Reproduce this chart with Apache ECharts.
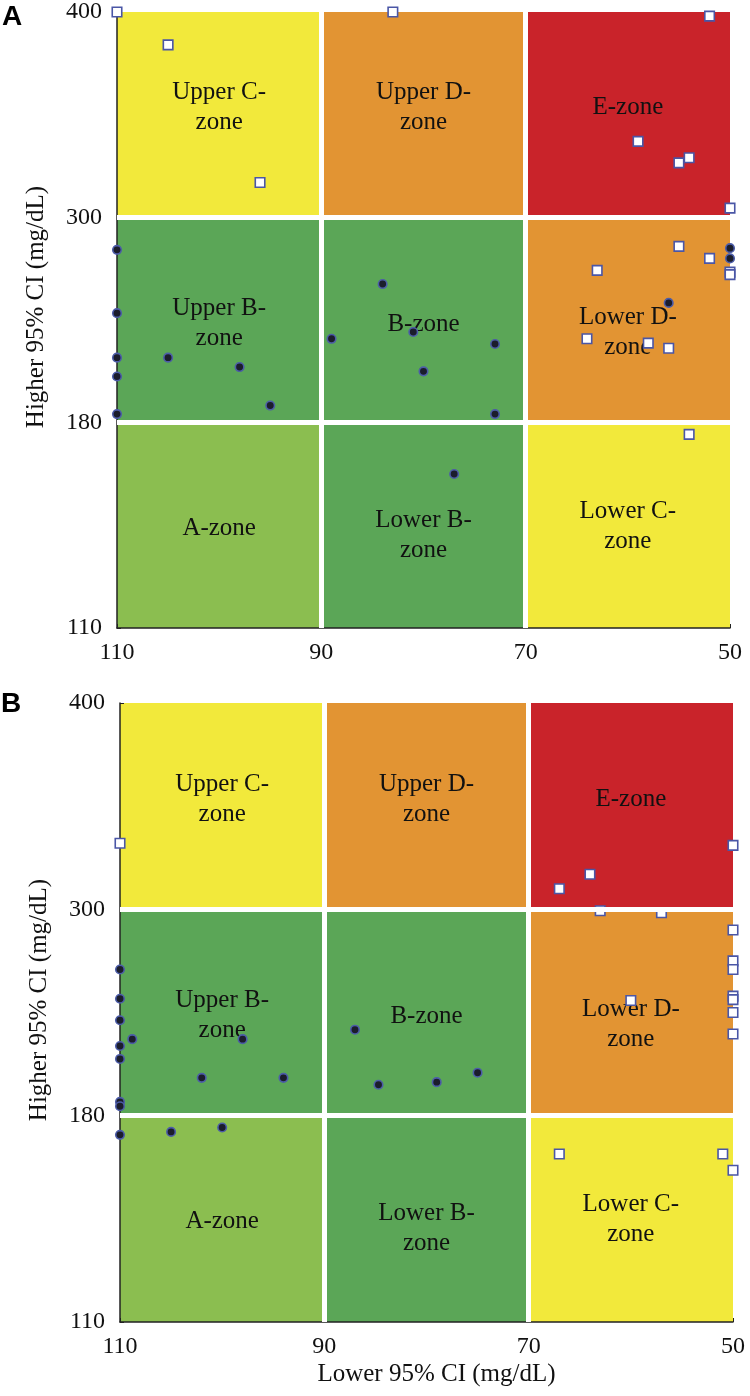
<!DOCTYPE html>
<html>
<head>
<meta charset="utf-8">
<script src="https://cdn.jsdelivr.net/npm/echarts@6/dist/echarts.min.js"></script>
<style>html,body{margin:0;padding:0;background:#fff}#c{width:750px;height:1396px}</style>
</head>
<body>
<div id="c"></div>
<script>
// ---- Data ----
const xBreaks = [110, 90, 70, 50];          // Lower 95% CI tick labels / zone boundaries
const yBreaks = [110, 180, 300, 400];       // Higher 95% CI tick labels / zone boundaries
// zone names by row (bottom -> top) and column (110-90, 90-70, 70-50)
const zoneNames = [
  ['A-zone', 'Lower B-\nzone', 'Lower C-\nzone'],
  ['Upper B-\nzone', 'B-zone', 'Lower D-\nzone'],
  ['Upper C-\nzone', 'Upper D-\nzone', 'E-zone']
];
// Panel A
const aCircles = [[110,281],[110,244],[110,218],[110,207],[110,185],[105,218],[98,212.5],[95,190],[89,229],[84,261],[81,233],[80,210],[73,226],[73,185],[77,162.5],[56,250],[50,282],[50,276]];
const aSquares = [[110,400],[105,384],[96,317],[83,400],[52,398],[59,337],[55,326.5],[54,329],[50,304.5],[55,283],[52,276],[50,268],[50,266.5],[63,269],[64,229],[58,226.5],[56,223.5],[54,176]];
// Panel B
const bCircles = [[110,265],[110,248],[110,235.5],[108.8,224.5],[110,220.5],[110,213],[110,188],[110,185.5],[110,173.5],[105,174.5],[100,176],[102,202],[94,202],[98,224.5],[87,230],[84.7,198],[79,199.5],[75,205]];
const bSquares = [[110,332],[50,331],[64,317],[67,310],[63,299.2],[57,298],[50,288],[50,270],[50,265],[50,249.5],[50,247.5],[50,240],[50,227.5],[60,247],[67,167],[51,167],[50,161.5]];

// ---- Styles ----
const YEL = '#F2E93B', ORA = '#E29433', RED = '#C9232A', GRN = '#5BA657', LGR = '#8BBE50';
const zoneColors = [[LGR, GRN, YEL],[GRN, GRN, ORA],[YEL, ORA, RED]];
const labelShift = [[3,10,1],[3,4,12],[-7,-7,-7]];
const SERIF = '"Liberation Serif","Times New Roman",serif';

// piecewise scale: each y band occupies an equal height
function yPos(v) {
  for (let i = 0; i < yBreaks.length - 1; i++) {
    if (v <= yBreaks[i + 1]) return i + (v - yBreaks[i]) / (yBreaks[i + 1] - yBreaks[i]);
  }
  return yBreaks.length - 1;
}
const toXY = arr => arr.map(p => [p[0], yPos(p[1])]);

function zoneAreas() {
  const out = [];
  for (let r = 0; r < 3; r++) for (let c = 0; c < 3; c++) {
    out.push([
      { name: zoneNames[r][c], xAxis: xBreaks[c], yAxis: yPos(yBreaks[r + 1]),
        itemStyle: { color: zoneColors[r][c] }, label: { offset: [0, labelShift[r][c]] } },
      { xAxis: xBreaks[c + 1], yAxis: yPos(yBreaks[r]) }
    ]);
  }
  return out;
}

function axesFor(i) {
  return {
    x: {
      type: 'value', gridIndex: i, min: 50, max: 110, inverse: true, z: 3,
      axisLine: { lineStyle: { color: '#222', width: 1.5 } },
      axisTick: { inside: true, length: 4, customValues: xBreaks, lineStyle: { color: '#222' } },
      axisLabel: { customValues: xBreaks, margin: 13, fontFamily: SERIF, fontSize: 24, color: '#111' },
      splitLine: { show: false }
    },
    y: {
      type: 'value', gridIndex: i, min: 0, max: 3, interval: 1, z: 3,
      axisLine: { show: true, lineStyle: { color: '#222', width: 1.5 } },
      axisTick: { show: true, inside: true, length: 4, lineStyle: { color: '#222' } },
      axisLabel: { formatter: v => String(yBreaks[Math.round(v)]), margin: 15, fontFamily: SERIF, fontSize: 24, color: '#111' },
      splitLine: { show: false }
    }
  };
}

function seriesFor(i, circles, squares) {
  return [
    { type: 'scatter', xAxisIndex: i, yAxisIndex: i, data: [], z: 1, silent: true,
      markArea: { silent: true, label: { show: true, position: 'inside', formatter: '{b}', fontFamily: SERIF, fontSize: 25, lineHeight: 30, color: '#111' },
        emphasis: { disabled: true }, data: zoneAreas() } },
    { type: 'scatter', xAxisIndex: i, yAxisIndex: i, data: [], z: 2, silent: true,
      markLine: { silent: true, symbol: ['none', 'none'], label: { show: false }, emphasis: { disabled: true },
        lineStyle: { color: '#ffffff', width: 5, type: 'solid' },
        data: [{ xAxis: xBreaks[1] }, { xAxis: xBreaks[2] }, { yAxis: yPos(yBreaks[1]) }, { yAxis: yPos(yBreaks[2]) }] } },
    { type: 'scatter', xAxisIndex: i, yAxisIndex: i, z: 4, data: toXY(circles), symbol: 'circle', symbolSize: 8.5,
      itemStyle: { color: '#1b1d2c', borderColor: '#4c5ca8', borderWidth: 1.6, opacity: 1 } },
    { type: 'scatter', xAxisIndex: i, yAxisIndex: i, z: 4, data: toXY(squares), symbol: 'rect', symbolSize: 9.5,
      itemStyle: { color: '#ffffff', borderColor: '#4a56a6', borderWidth: 1.6, opacity: 1 } }
  ];
}

const a0 = axesFor(0), a1 = axesFor(1);
const chart = echarts.init(document.getElementById('c'), null, { renderer: 'canvas' });
chart.setOption({
  animation: false,
  backgroundColor: '#ffffff',
  grid: [
    { left: 117, top: 11, width: 613, height: 617 },
    { left: 120, top: 703, width: 613, height: 619 }
  ],
  xAxis: [a0.x, Object.assign({}, a1.x, {
    name: 'Lower 95% CI (mg/dL)', nameLocation: 'middle', nameGap: 40,
    nameTextStyle: { fontFamily: SERIF, fontSize: 25, color: '#111', padding: [0, 0, 0, 20] }
  })],
  yAxis: [a0.y, a1.y],
  series: [].concat(seriesFor(0, aCircles, aSquares), seriesFor(1, bCircles, bSquares)),
  graphic: [
    { type: 'text', left: 2, top: 3, style: { text: 'A', font: 'bold 28px "Liberation Sans", Arial, sans-serif', fill: '#000' } },
    { type: 'text', left: 1, top: 690, style: { text: 'B', font: 'bold 28px "Liberation Sans", Arial, sans-serif', fill: '#000' } },
    { type: 'text', x: 36, y: 307, rotation: Math.PI / 2,
      style: { text: 'Higher 95% CI (mg/dL)', font: '25px ' + SERIF, fill: '#111', align: 'center', verticalAlign: 'middle' } },
    { type: 'text', x: 39, y: 1000, rotation: Math.PI / 2,
      style: { text: 'Higher 95% CI (mg/dL)', font: '25px ' + SERIF, fill: '#111', align: 'center', verticalAlign: 'middle' } }
  ]
});
</script>
</body>
</html>
